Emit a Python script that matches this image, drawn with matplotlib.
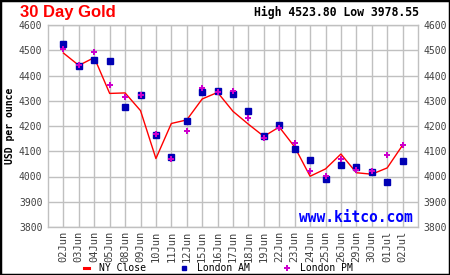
import matplotlib
matplotlib.use("Agg")
import matplotlib.pyplot as plt
from matplotlib.patches import Rectangle
from matplotlib.lines import Line2D

# -----------------------
# Data
# -----------------------
dates = ["02Jun", "03Jun", "04Jun", "05Jun", "08Jun", "09Jun", "10Jun", "11Jun",
         "12Jun", "15Jun", "16Jun", "17Jun", "18Jun", "19Jun", "22Jun", "23Jun",
         "24Jun", "25Jun", "26Jun", "29Jun", "30Jun", "01Jul", "02Jul"]
ny_close = [4489, 4440, 4471, 4329, 4331, 4261, 4071, 4210, 4224, 4307, 4333, 4258,
            4207, 4159, 4196, 4117, 4001, 4030, 4089, 4015, 4009, 4034, 4124]
london_am = [4523.8, 4439, 4463, 4459, 4276, 4323, 4164, 4076, 4221, 4335, 4339, 4328,
             4261, 4162, 4204, 4110, 4067, 3991, 4047, 4039, 4018, 3978.55, 4063]
london_pm = [4503, 4443, 4495, 4363, 4315, 4323, 4168, 4068, 4181, 4351, 4333, 4340,
             4233, 4153, 4194, 4134, 4023, 4001, 4071, 4024, 4022, 4087, 4126]
y_ticks = [3800, 3900, 4000, 4100, 4200, 4300, 4400, 4500, 4600]

mono = "DejaVu Sans Mono"
red = "#ff0000"
blue = "#0000b4"
magenta = "#cc00cc"
grid_c = "#c0c0c0"
tick_c = "#404040"

fig = plt.figure(figsize=(4.5, 2.75), dpi=100, facecolor="white")
ax = fig.add_axes([48 / 450, 48 / 275, 370 / 450, 202 / 275])

x = list(range(len(dates)))
ax.plot(x, ny_close, color=red, lw=1.0, zorder=3)
ax.plot(x, london_am, ls="none", marker="s", ms=4.5, color=blue, zorder=4)
ax.plot(x, london_pm, ls="none", marker="P", ms=4.0, color=magenta,
        markeredgewidth=0, zorder=5)

ax.set_xlim(-1, len(dates))
ax.set_ylim(3800, 4600)
ax.set_xticks(x)
ax.set_xticklabels(dates, rotation=90, family=mono, fontsize=7.5, color=tick_c)
ax.set_yticks(y_ticks)
ax.set_yticklabels([str(v) for v in y_ticks], family=mono, fontsize=7, color=tick_c)
ax.tick_params(axis="both", length=0, pad=3)
ax.tick_params(axis="y", labelright=True, pad=4)
ax.grid(True, color=grid_c, lw=1.0, zorder=0)
ax.set_axisbelow(True)
for s in ax.spines.values():
    s.set_color(grid_c)
    s.set_linewidth(1.0)

ax.set_ylabel("USD per ounce", family=mono, fontsize=7, fontweight="bold",
              va="center")
ax.yaxis.set_label_coords((10 - 48) / 370, 0.5)

# watermark
ax.text(0.985, 0.008, "www.kitco.com", transform=ax.transAxes, ha="right",
        va="bottom", family=mono, fontweight="bold", fontsize=10.5, color="#0000ff",
        zorder=6)

# titles
fig.text(20 / 450, 1 - 12 / 275, "30 Day Gold", ha="left", va="center",
         family="Liberation Sans", fontweight="bold", fontsize=12, color=red)
fig.text(419 / 450, 1 - 12 / 275, "High 4523.80 Low 3978.55", ha="right",
         va="center", family=mono, fontweight="bold", fontsize=8.3, color="black")

# legend
handles = [
    Line2D([], [], color=red, lw=2.2),
    Line2D([], [], ls="none", marker="s", ms=3, color=blue),
    Line2D([], [], ls="none", marker="P", ms=4, color=magenta, markeredgewidth=0),
]
leg = fig.legend(handles, ["NY Close", "London AM", "London PM"], ncol=3,
                 loc="center", bbox_to_anchor=(0.485, 7 / 275), frameon=False,
                 handlelength=0.6, handletextpad=1.0, columnspacing=3.6,
                 prop={"family": mono, "size": 7})

# outer frame
fig.patches.append(Rectangle((0, 0), 1, 1, transform=fig.transFigure,
                             fill=False, edgecolor="black", lw=2.5))

fig.savefig("out.png", dpi=100, facecolor="white")
